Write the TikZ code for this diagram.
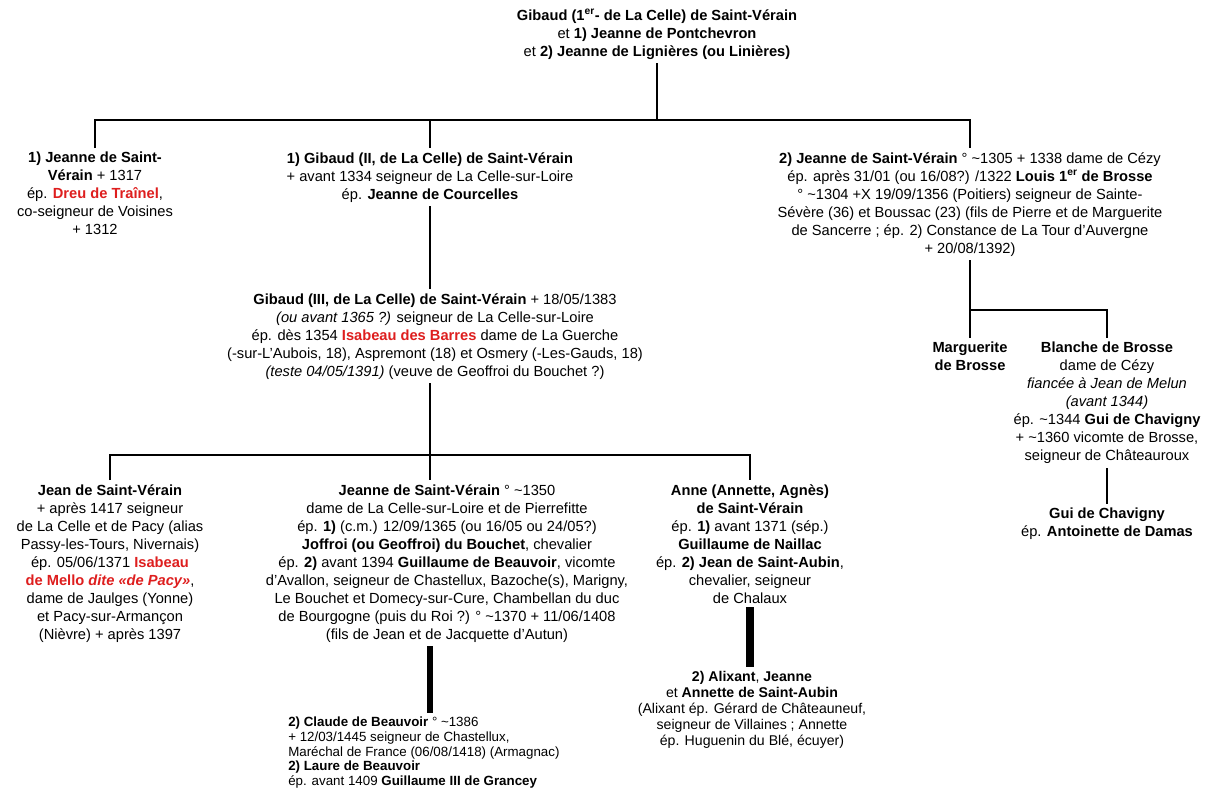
\documentclass[tikz,border=0pt]{standalone}
\usepackage{fontspec}
\setmainfont{Liberation Sans}
\usepackage{xcolor}
\usetikzlibrary{positioning}
\definecolor{rd}{RGB}{222,30,30}
\newcommand{\rdb}[1]{\textcolor{rd}{\textbf{#1}}}
\newcommand{\tld}{\textasciitilde}
\tikzset{
  pers/.style  ={align=center, inner sep=3pt, anchor=north,
                 font=\fontsize{11}{13.5}\selectfont},
  persS/.style ={align=center, inner sep=3pt, anchor=north,
                 font=\fontsize{10.6}{12}\selectfont},
  persL/.style ={align=left, inner sep=3pt, anchor=north west,
                 font=\fontsize{10}{10.9}\selectfont},
  lnk/.style   ={line width=1.5pt},
  lnkB/.style  ={line width=3.8pt},
  lnkC/.style  ={line width=6pt},
}
\begin{document}
\begin{tikzpicture}[x=0.75pt, y=-0.75pt]
  \useasboundingbox[fill=white] (0,0) rectangle (1219,803);
  % generation 0
  \node[pers] (top) at (657,5)
    {\textbf{Gibaud (1\textsuperscript{er}-  de La Celle) de Saint-Vérain}\\
     et \textbf{1) Jeanne de Pontchevron}\\
     et \textbf{2) Jeanne de Lignières (ou Linières)}};
  % generation 1
  \node[pers] (jsv1) at (95,148)
    {\textbf{1) Jeanne de Saint-}\\
     \textbf{Vérain} + 1317\\
     ép. \rdb{Dreu de Traînel},\\
     co-seigneur de Voisines\\
     + 1312};
  \node[pers] (gib2) at (430,148)
    {\textbf{1) Gibaud (II, de La Celle) de Saint-Vérain}\\
     + avant 1334 seigneur de La Celle-sur-Loire\\
     ép. \textbf{Jeanne de Courcelles}};
  \node[pers] (jsv2) at (970,148)
    {\textbf{2) Jeanne de Saint-Vérain} ° \tld1305 + 1338 dame de Cézy\\
     ép. après 31/01 (ou 16/08?) /1322 \textbf{Louis 1\textsuperscript{er} de Brosse}\\
     ° \tld1304 +X 19/09/1356 (Poitiers) seigneur de Sainte-\\
     Sévère (36) et Boussac (23) (fils de Pierre et de Marguerite\\
     de Sancerre ; ép. 2) Constance de La Tour d’Auvergne\\
     + 20/08/1392)};
  \coordinate (b1) at (657,120);
  \draw[lnk] (top.south) -- (b1);
  \draw[lnk] (jsv1.north) |- (b1) -| (jsv2.north);
  \draw[lnk] (b1) -| (gib2.north);
  % Brosse branch
  \node[pers] (marg) at (970,338)
    {\textbf{Marguerite}\\ \textbf{de Brosse}};
  \node[pers] (blan) at (1107,338)
    {\textbf{Blanche de Brosse}\\
     dame de Cézy\\
     \textit{fiancée à Jean de Melun}\\
     \textit{(avant 1344)}\\
     ép. \tld1344 \textbf{Gui de Chavigny}\\
     + \tld1360 vicomte de Brosse,\\
     seigneur de Châteauroux};
  \node[pers] (guic) at (1107,504)
    {\textbf{Gui de Chavigny}\\ ép. \textbf{Antoinette de Damas}};
  \coordinate (b2) at (970,310);
  \draw[lnk] (jsv2.south) -- (marg.north);
  \draw[lnk] (b2) -| (blan.north);
  \draw[lnk] (blan.south) -- (guic.north);
  % generation 2
  \node[pers] (gib3) at (435,289)
    {\textbf{Gibaud (III, de La Celle) de Saint-Vérain} + 18/05/1383\\
     \textit{(ou avant 1365 ?)} seigneur de La Celle-sur-Loire\\
     ép. dès 1354 \rdb{Isabeau des Barres} dame de La Guerche\\
     (-sur-L’Aubois, 18), Aspremont (18) et Osmery (-Les-Gauds, 18)\\
     \textit{(teste 04/05/1391)} (veuve de Geoffroi du Bouchet ?)};
  \draw[lnk] (gib2.south) -- (gib2.south |- gib3.north);
  % generation 3
  \node[pers] (jean) at (110,480)
    {\textbf{Jean de Saint-Vérain}\\
     + après 1417 seigneur\\
     de La Celle et de Pacy (alias\\
     Passy-les-Tours, Nivernais)\\
     ép. 05/06/1371 \rdb{Isabeau}\\
     \rdb{de Mello \textit{dite «de Pacy»}},\\
     dame de Jaulges (Yonne)\\
     et Pacy-sur-Armançon\\
     (Nièvre) + après 1397};
  \node[pers] (jnne) at (447,480)
    {\textbf{Jeanne de Saint-Vérain} ° \tld1350\\
     dame de La Celle-sur-Loire et de Pierrefitte\\
     ép. \textbf{1)} (c.m.) 12/09/1365 (ou 16/05 ou 24/05?)\\
     \textbf{Joffroi (ou Geoffroi) du Bouchet}, chevalier\\
     ép. \textbf{2)} avant 1394 \textbf{Guillaume de Beauvoir}, vicomte\\
     d’Avallon, seigneur de Chastellux, Bazoche(s), Marigny,\\
     Le Bouchet et Domecy-sur-Cure, Chambellan du duc\\
     de Bourgogne (puis du Roi ?) ° \tld1370 + 11/06/1408\\
     (fils de Jean et de Jacquette d’Autun)};
  \node[pers] (anne) at (750,480)
    {\textbf{Anne (Annette, Agnès)}\\
     \textbf{de Saint-Vérain}\\
     ép. \textbf{1)} avant 1371 (sép.)\\
     \textbf{Guillaume de Naillac}\\
     ép. \textbf{2) Jean de Saint-Aubin},\\
     chevalier, seigneur\\
     de Chalaux};
  \coordinate (b3) at (430,455);
  \draw[lnk] (gib3.south -| b3) -- (b3);
  \draw[lnk] (jean.north) |- (b3) -| (anne.north);
  \draw[lnk] (b3) -- (b3 |- jnne.north);
  % generation 4
  \node[persS] (alix) at (752,667)
    {\textbf{2) Alixant}, \textbf{Jeanne}\\
     et \textbf{Annette de Saint-Aubin}\\
     (Alixant ép. Gérard de Châteauneuf,\\
     seigneur de Villaines ; Annette\\
     ép. Huguenin du Blé, écuyer)};
  \node[persL] (clau) at (284,713)
    {\textbf{2) Claude de Beauvoir} ° \tld1386\\
     + 12/03/1445 seigneur de Chastellux,\\
     Maréchal de France (06/08/1418) (Armagnac)\\
     \textbf{2) Laure de Beauvoir}\\
     ép. avant 1409 \textbf{Guillaume III de Grancey}};
  \draw[lnkB] (jnne.south -| b3) -- (clau.north -| b3);
  \draw[lnkC] (anne.south) -- (anne.south |- alix.north);
\end{tikzpicture}
\end{document}
